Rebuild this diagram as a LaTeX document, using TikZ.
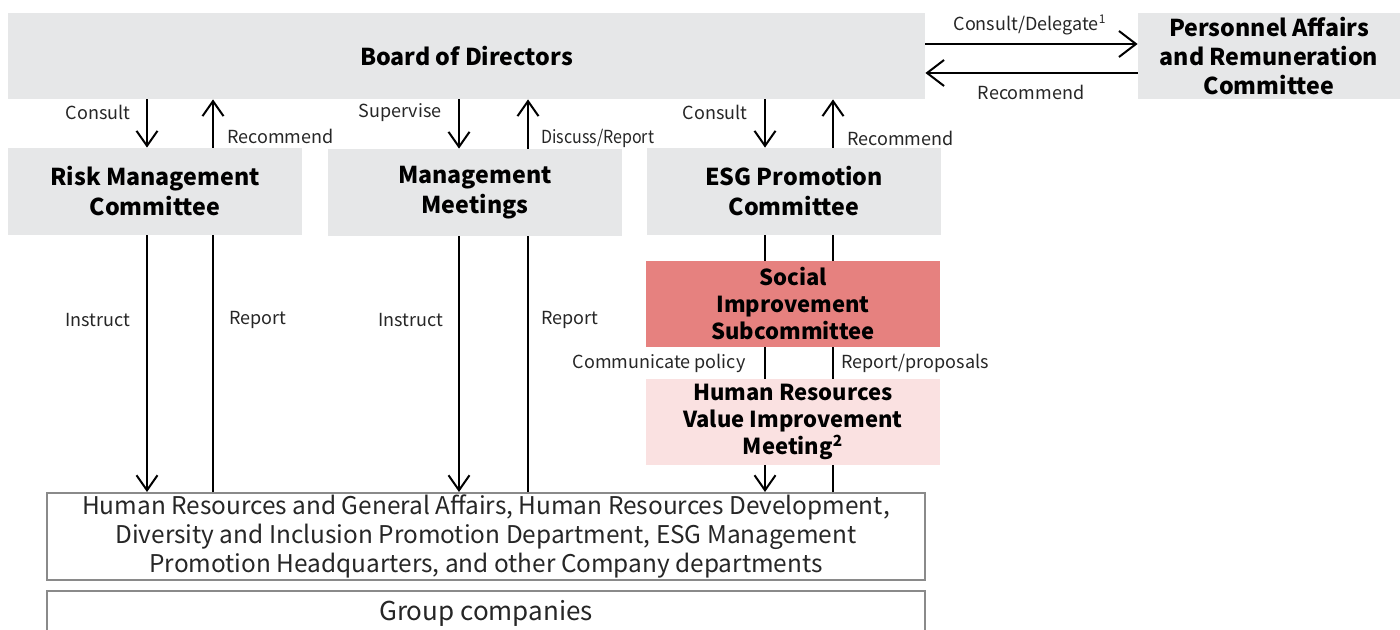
\documentclass[tikz,border=0pt]{standalone}
\usepackage{fontspec}
\setmainfont{Noto Sans CJK JP}
\usetikzlibrary{arrows.meta}
\definecolor{boxgray}{HTML}{E6E7E8}
\definecolor{socred}{HTML}{E6817F}
\definecolor{hrvpink}{HTML}{FAE1E1}
\definecolor{edgegray}{HTML}{8A8A8A}
\begin{document}
\begin{tikzpicture}[x=0.5pt,y=-0.5pt,
  titlebox/.style={fill=boxgray, draw=none, inner sep=0pt, align=center,
    font=\bfseries\fontsize{11.6}{15}\selectfont, text=black},
  subbox/.style={titlebox, font=\bfseries\fontsize{11}{13.5}\selectfont},
  whitebox/.style={fill=white, draw=edgegray, line width=1pt, inner sep=0pt, align=center,
    font=\fontsize{12.2}{14.3}\selectfont, text=black!85},
  lbl/.style={inner sep=0pt, font=\fontsize{9}{10}\selectfont, text=black!85},
  arr/.style={line width=1pt, -{Straight Barb[length=7.5pt,width=10.5pt,line width=1pt]}},
  arrh/.style={line width=1pt, -{Straight Barb[length=8.5pt,width=13pt,line width=1pt]}},
  ln/.style={line width=1pt}]
\useasboundingbox (0,0) rectangle (1400,630);
% boxes
\node[titlebox, minimum width=458.5pt, minimum height=43pt] (board) at (466.5,56) {Board of Directors};
\node[titlebox, minimum width=131pt, minimum height=43pt, font=\bfseries\fontsize{11.6}{14.5}\selectfont] (pers) at (1269,56) {Personnel Affairs\\and Remuneration\\Committee};
\node[titlebox, minimum width=147pt, minimum height=43.5pt] (risk) at (155,191.5) {Risk Management\\Committee};
\node[titlebox, minimum width=147pt, minimum height=43.5pt] (mgmt) at (475,192.5) {Management\\Meetings};
\node[titlebox, minimum width=147pt, minimum height=43.5pt] (esg) at (794,191.5) {ESG Promotion\\Committee};
\node[subbox, fill=socred, minimum width=147pt, minimum height=43pt] (soc) at (793,304) {Social\\Improvement\\Subcommittee};
\node[subbox, fill=hrvpink, minimum width=147pt, minimum height=43pt] (hrv) at (793,422) {Human Resources\\Value Improvement\\Meeting\textsuperscript{2}};
\node[whitebox, minimum width=439pt, minimum height=43.5pt] (dept) at (486,536.5) {\raisebox{-1pt}{\parbox{430pt}{\centering Human Resources and General Affairs, Human Resources Development,\\Diversity and Inclusion Promotion Department, ESG Management\\Promotion Headquarters, and other Company departments}}};
\node[whitebox, minimum width=439pt, minimum height=22pt, font=\fontsize{13}{15}\selectfont] (grp) at (486,613) {Group companies};
% column coordinates
\coordinate (xa) at (147,0);
\coordinate (xb) at (213,0);
\coordinate (xc) at (459,0);
\coordinate (xd) at (528,0);
\coordinate (xe) at (765,0);
\coordinate (xf) at (833,0);
\coordinate (ya) at (0,44);
\coordinate (yb) at (0,73);
% board <-> committees
\draw[arr] (board.south -| xa) -- (risk.north -| xa);
\draw[arr] (risk.north -| xb) -- (board.south -| xb);
\draw[arr] (board.south -| xc) -- (mgmt.north -| xc);
\draw[arr] (mgmt.north -| xd) -- (board.south -| xd);
\draw[arr] (board.south -| xe) -- (esg.north -| xe);
\draw[arr] (esg.north -| xf) -- (board.south -| xf);
% board <-> personnel
\draw[arrh] (board.east |- ya) -- (pers.west |- ya);
\draw[arrh] (pers.west |- yb) -- (board.east |- yb);
% committees -> departments
\draw[arr] (risk.south -| xa) -- (dept.north -| xa);
\draw[ln] (dept.north -| xb) -- (risk.south -| xb);
\draw[arr] (mgmt.south -| xc) -- (dept.north -| xc);
\draw[ln] (dept.north -| xd) -- (mgmt.south -| xd);
\draw[ln] (esg.south -| xe) -- (soc.north -| xe);
\draw[ln] (soc.north -| xf) -- (esg.south -| xf);
\draw[ln] (soc.south -| xe) -- (hrv.north -| xe);
\draw[ln] (hrv.north -| xf) -- (soc.south -| xf);
\draw[arr] (hrv.south -| xe) -- (dept.north -| xe);
\draw[ln] (dept.north -| xf) -- (hrv.south -| xf);
% labels
\node[lbl, anchor=east] (l1) at (131,112) {Consult};
\node[lbl, anchor=west] (l2) at (227,136) {Recommend};
\node[lbl, anchor=east] (l3) at (442,113) {Supervise};
\node[lbl, anchor=west, xscale=0.89] (l4) at (541,138) {Discuss/Report};
\node[lbl, anchor=east] (l5) at (748,112) {Consult};
\node[lbl, anchor=west] (l6) at (847,138) {Recommend};
\node[lbl] (l7) at (1030,25) {Consult/Delegate\textsuperscript{1}};
\node[lbl] (l8) at (1031,92) {Recommend};
\node[lbl] (l9) at (98,320) {Instruct};
\node[lbl] (l10) at (258,320) {Report};
\node[lbl] (l11) at (411,320) {Instruct};
\node[lbl] (l12) at (570,320) {Report};
\node[lbl, anchor=east] (l13) at (746,363) {Communicate policy};
\node[lbl, anchor=west] (l14) at (841,363) {Report/proposals};
\end{tikzpicture}
\end{document}
